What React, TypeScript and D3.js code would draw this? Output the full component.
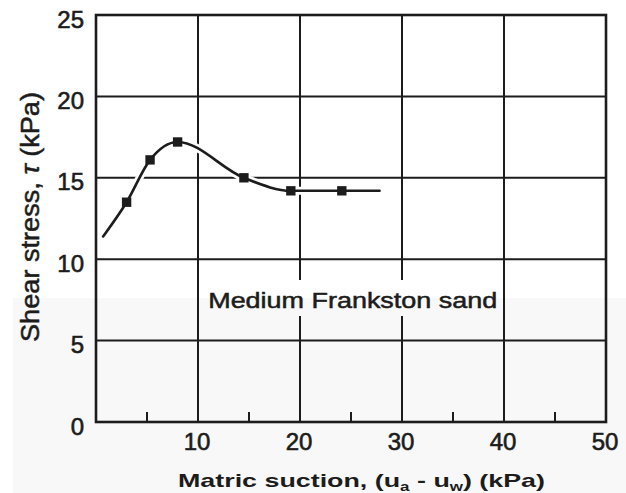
import React from "react";
import * as d3 from "d3";

const W = 626;
const H = 493;

// Axis ticks
const xTicks = [10, 20, 30, 40, 50];
const xMinorTicks = [5, 15, 25, 35, 45];
const yTicks = [0, 5, 10, 15, 20, 25];

// Measured points: matric suction (kPa) vs shear stress (kPa)
const suction = [3, 5.3, 8, 14.5, 19.1, 24.1];
const shear = [13.5, 16.1, 17.2, 15.0, 14.2, 14.2];

// Fitted curve through the measurements
const curveSuction = [0.7, 3, 5.3, 8, 14.5, 19.1, 24.1, 27.8];
const curveShear = [11.4, 13.5, 16.1, 17.2, 15.0, 14.2, 14.2, 14.2];

const soilLabel = "Medium Frankston sand";

const FONT = "'Liberation Sans', Arial, Helvetica, sans-serif";
const INK = "#1c1c1c";

export default function App() {
  const x = d3.scaleLinear().domain([0, 50]).range([96, 606]);
  const y = d3.scaleLinear().domain([0, 25]).range([422, 15]);

  const [x0, x1] = x.range();
  const [yBottom, yTop] = y.range();

  const curvePts: [number, number][] = curveSuction.map((s, i) => [s, curveShear[i]]);
  const line = d3
    .line<[number, number]>()
    .x((d) => x(d[0]))
    .y((d) => y(d[1]))
    .curve(d3.curveMonotoneX);
  const pathD = line(curvePts) || "";

  const square = d3.symbol().type(d3.symbolSquare).size(88)() || "";

  // Annotation box: vertical grid lines are interrupted behind it
  const labelX = x(11);
  const labelW = 289;
  const labelCy = y(7.5);
  const gapTop = labelCy - 20;
  const gapBottom = labelCy + 16;

  const verticalGrid = xTicks.filter((t) => t < 50);
  const horizontalGrid = yTicks.filter((t) => t > 0 && t < 25);

  return (
    <svg
      width={W}
      height={H}
      viewBox={`0 0 ${W} ${H}`}
      style={{ position: "absolute", left: 0, top: 0, background: "#fff" }}
      fontFamily={FONT}
    >
      <rect x={0} y={0} width={W} height={H} fill="#ffffff" />
      <rect x={13} y={298} width={W - 13} height={H - 298} fill="#f8f8f8" />

      {/* grid */}
      <g stroke={INK} strokeWidth={2} fill="none">
        {verticalGrid.map((t) => {
          const gx = x(t);
          const crossesLabel = gx > labelX - 4 && gx < labelX + labelW + 4;
          return crossesLabel ? (
            <g key={`v${t}`}>
              <line x1={gx} x2={gx} y1={yTop} y2={gapTop} />
              <line x1={gx} x2={gx} y1={gapBottom} y2={yBottom} />
            </g>
          ) : (
            <line key={`v${t}`} x1={gx} x2={gx} y1={yTop} y2={yBottom} />
          );
        })}
        {horizontalGrid.map((t) => (
          <line key={`h${t}`} x1={x0} x2={x1} y1={y(t)} y2={y(t)} />
        ))}
        {xMinorTicks.map((t) => (
          <line key={`m${t}`} x1={x(t)} x2={x(t)} y1={yBottom} y2={yBottom - 10} />
        ))}
      </g>

      {/* frame */}
      <rect
        x={x0}
        y={yTop}
        width={x1 - x0}
        height={yBottom - yTop}
        fill="none"
        stroke={INK}
        strokeWidth={2.6}
      />

      {/* curve with white halo where it crosses the grid */}
      <path d={pathD} fill="none" stroke="#fff" strokeWidth={8} strokeLinecap="round" />
      <path d={pathD} fill="none" stroke={INK} strokeWidth={2.6} strokeLinecap="round" />

      {suction.map((s, i) => (
        <path
          key={`p${i}`}
          d={square}
          transform={`translate(${x(s)},${y(shear[i])})`}
          fill={INK}
        />
      ))}

      {/* y tick labels */}
      {yTicks.map((t) => (
        <text
          key={`yl${t}`}
          x={84}
          y={y(t) + 4}
          textAnchor="end"
          dominantBaseline="central"
          fontSize={24}
          fill={INK}
          stroke={INK}
          strokeWidth={0.6}
        >
          {t}
        </text>
      ))}

      {/* x tick labels */}
      {xTicks.map((t) => (
        <text
          key={`xl${t}`}
          x={x(t) - 1}
          y={441}
          textAnchor="middle"
          dominantBaseline="central"
          fontSize={24}
          fill={INK}
          stroke={INK}
          strokeWidth={0.6}
        >
          {t}
        </text>
      ))}

      {/* annotation */}
      <text
        x={labelX}
        y={labelCy + 8}
        fontSize={22}
        fill={INK}
        stroke={INK}
        strokeWidth={0.5}
        textLength={labelW}
        lengthAdjust="spacingAndGlyphs"
      >
        {soilLabel}
      </text>

      {/* axis titles */}
      <text
        x={178}
        y={487}
        fontSize={19}
        fontWeight="bold"
        fill={INK}
        textLength={367}
        lengthAdjust="spacingAndGlyphs"
      >
        Matric suction, (u
        <tspan fontSize={12} dy={4}>a</tspan>
        <tspan dy={-4}> - u</tspan>
        <tspan fontSize={12} dy={4}>w</tspan>
        <tspan dy={-4}>) (kPa)</tspan>
      </text>

      <text
        transform={`translate(39,217) rotate(-90)`}
        textAnchor="middle"
        fontSize={25}
        fill={INK}
        stroke={INK}
        strokeWidth={0.5}
        textLength={250}
        lengthAdjust="spacingAndGlyphs"
      >
        Shear stress, <tspan fontStyle="italic">τ</tspan> (kPa)
      </text>
    </svg>
  );
}
